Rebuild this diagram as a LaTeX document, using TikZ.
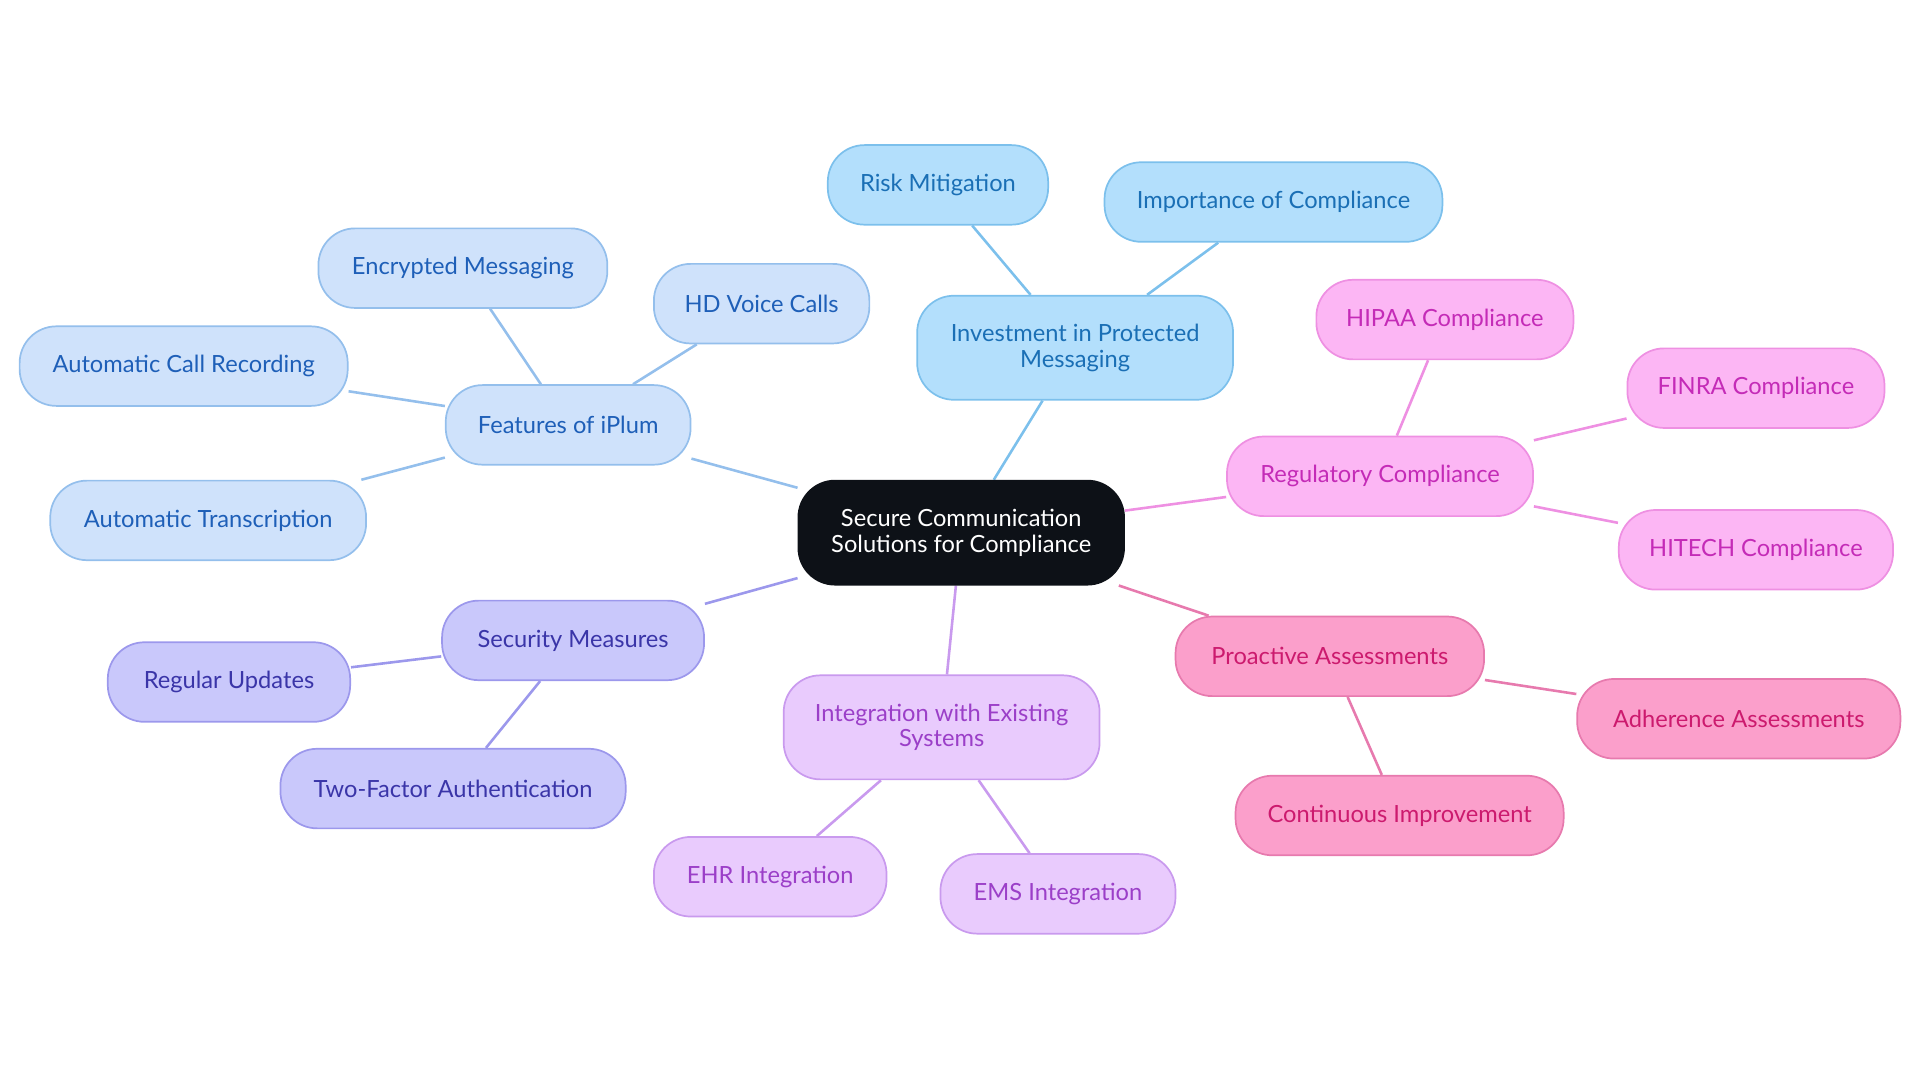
\documentclass[tikz,border=0pt]{standalone}
\usepackage{fontspec}
\setmainfont{Lato}
\usetikzlibrary{positioning, backgrounds}
\definecolor{blueA}{HTML}{B3DFFC}\definecolor{blueAd}{HTML}{7CC0EC}\definecolor{blueAt}{HTML}{1A6FB5}
\definecolor{blueB}{HTML}{CFE2FB}\definecolor{blueBd}{HTML}{94BFEC}\definecolor{blueBt}{HTML}{1E5FB8}
\definecolor{violA}{HTML}{C9C8FB}\definecolor{violAd}{HTML}{9C98EC}\definecolor{violAt}{HTML}{3A35A8}
\definecolor{purpA}{HTML}{E9CBFD}\definecolor{purpAd}{HTML}{C99AEE}\definecolor{purpAt}{HTML}{9B3FC8}
\definecolor{pinkA}{HTML}{FCB6F4}\definecolor{pinkAd}{HTML}{EE90E2}\definecolor{pinkAt}{HTML}{C42BB7}
\definecolor{roseA}{HTML}{FB9FCB}\definecolor{roseAd}{HTML}{E77AAE}\definecolor{roseAt}{HTML}{CC1A6E}
\definecolor{rootbg}{HTML}{0D1117}
\begin{document}
\begin{tikzpicture}[x=0.02cm, y=-0.02cm,
            topic/.style={rectangle, rounded corners=0.6cm, thick, minimum height=1.3cm, align=center, font=\fontsize{11}{12}\selectfont},
            big/.style={topic, minimum height=1.7cm},
            blu/.style={topic, fill=blueA, draw=blueAd, text=blueAt},
            feat/.style={topic, fill=blueB, draw=blueBd, text=blueBt},
            secu/.style={topic, fill=violA, draw=violAd, text=violAt},
            integ/.style={topic, fill=purpA, draw=purpAd, text=purpAt},
            regu/.style={topic, fill=pinkA, draw=pinkAd, text=pinkAt},
            proa/.style={topic, fill=roseA, draw=roseAd, text=roseAt},
            link/.style={line width=1.2pt}
        ]
\useasboundingbox (0,0) rectangle (1568,884);

% root
            \node[big, fill=rootbg, draw=rootbg, text=white, minimum width=5.32cm] (root) at (785,435) {Secure Communication\\Solutions for Compliance};

% Investment branch
            \node[blu, big, minimum width=5.16cm] (invest) at (878,284) {Investment in Protected\\Messaging};
            \node[blu, minimum width=3.6cm] (risk) at (766,151) {Risk Mitigation};
            \node[blu, minimum width=5.52cm] (importance) at (1040,165) {Importance of Compliance};

% Features branch
            \node[feat, minimum width=4cm] (features) at (464,347) {Features of iPlum};
            \node[feat, minimum width=4.72cm] (encrypted) at (378,219) {Encrypted Messaging};
            \node[feat, minimum width=3.52cm] (hdvoice) at (622,248) {HD Voice Calls};
            \node[feat, minimum width=5.36cm] (recording) at (150,299) {Automatic Call Recording};
            \node[feat, minimum width=5.16cm] (transcript) at (170,425) {Automatic Transcription};

% Security branch
            \node[secu, minimum width=4.28cm] (security) at (468,523) {Security Measures};
            \node[secu, minimum width=3.96cm] (updates) at (187,557) {Regular Updates};
            \node[secu, minimum width=5.64cm] (twofactor) at (370,644) {Two-Factor Authentication};

% Integration branch
            \node[integ, big, minimum width=5.16cm] (integration) at (769,594) {Integration with Existing\\Systems};
            \node[integ, minimum width=3.8cm] (ehr) at (629,716) {EHR Integration};
            \node[integ, minimum width=3.84cm] (ems) at (864,730) {EMS Integration};

% Regulatory branch
            \node[regu, minimum width=5cm] (regulatory) at (1127,389) {Regulatory Compliance};
            \node[regu, minimum width=4.2cm] (hipaa) at (1180,261) {HIPAA Compliance};
            \node[regu, minimum width=4.2cm] (finra) at (1434,317) {FINRA Compliance};
            \node[regu, minimum width=4.48cm] (hitech) at (1434,449) {HITECH Compliance};

% Proactive branch
            \node[proa, minimum width=5.04cm] (proactive) at (1086,536) {Proactive Assessments};
            \node[proa, minimum width=5.28cm] (adherence) at (1420,587) {Adherence Assessments};
            \node[proa, minimum width=5.36cm] (improve) at (1143,666) {Continuous Improvement};

% Connectors
            \begin{scope}[on background layer]
            \draw[link, blueAd] (root) -- (invest) (invest) -- (risk) (invest) -- (importance);
            \draw[link, blueBd] (root) -- (features) (features) -- (encrypted) (features) -- (hdvoice)
                (features) -- (recording) (features) -- (transcript);
            \draw[link, violAd] (root) -- (security) (security) -- (updates) (security) -- (twofactor);
            \draw[link, purpAd] (root) -- (integration) (integration) -- (ehr) (integration) -- (ems);
            \draw[link, pinkAd] (root) -- (regulatory) (regulatory) -- (hipaa) (regulatory) -- (finra) (regulatory) -- (hitech);
            \draw[link, roseAd] (root) -- (proactive) (proactive) -- (adherence) (proactive) -- (improve);
            \end{scope}

        \end{tikzpicture}
\end{document}
